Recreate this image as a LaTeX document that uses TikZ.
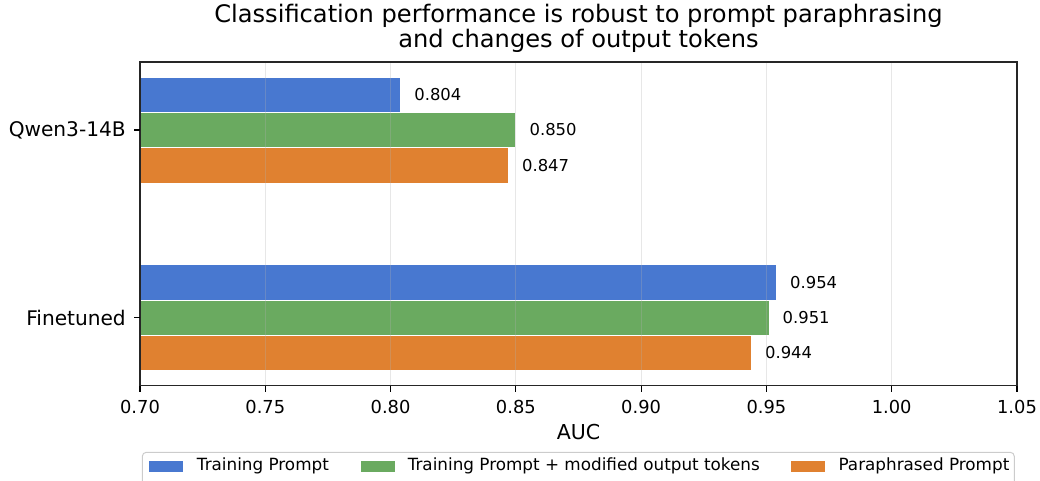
\documentclass[tikz,border=0pt]{standalone}
\usepackage{fontspec}
\setmainfont{DejaVu Sans}
\usetikzlibrary{positioning}

\definecolor{trainblue}{HTML}{4878D0}
\definecolor{tokgreen}{HTML}{6AAA60}
\definecolor{paraorange}{HTML}{E08130}

% map an AUC value to a pixel column
\newcommand{\aucx}[1]{140+(#1-0.7)*2505.7}

\tikzset{
  bar/.style={draw=white, line width=0.6pt},
  gridline/.style={draw=black!31, draw opacity=0.3, line width=0.75pt},
  spine/.style={draw=black!85, line width=1.1pt},
  ticklabel/.style={font=\fontsize{13.4}{16}\selectfont, inner sep=0pt},
  cattick/.style={anchor=east, font=\fontsize{15.1}{18}\selectfont, inner sep=0pt},
  vallabel/.style={anchor=west, font=\fontsize{12.3}{14}\selectfont, inner sep=0pt},
  legtext/.style={anchor=west, font=\fontsize{12.6}{14}\selectfont, inner sep=0pt},
  legpatch/.style={minimum width=24.8pt, minimum height=8pt, inner sep=0pt},
}

\begin{document}
\begin{tikzpicture}[x=0.75pt, y=-0.75pt]
  \useasboundingbox (0,0) rectangle (1040,480);

  \node[align=center, font=\fontsize{18.1}{16.9}\selectfont, inner sep=0pt] (title)
    at (578.5,28) {Classification performance is robust to prompt paraphrasing\\and changes of output tokens};

  % bars
  \foreach \ytop/\val/\col/\nm in {77/0.804/trainblue/qa, 112.3/0.850/tokgreen/qb, 147.6/0.847/paraorange/qc,
                                   264.7/0.954/trainblue/fa, 300/0.951/tokgreen/fb, 335.3/0.944/paraorange/fc} {
    \filldraw[bar, fill=\col] (140,\ytop) rectangle ({\aucx{\val}},\ytop+35.3);
    \node[vallabel] (val-\nm) at ({\aucx{\val}+13.5},\ytop+17.65) {\val};
  }

  % grid, ticks and tick labels
  \foreach \t/\nm in {0.70/a, 0.75/b, 0.80/c, 0.85/d, 0.90/e, 0.95/f, 1.00/g, 1.05/h} {
    \draw[gridline] ({\aucx{\t}},62) -- ({\aucx{\t}},385.5);
    \draw[line width=0.9pt] ({\aucx{\t}},385.5) -- ({\aucx{\t}},391.5);
    \node[ticklabel] (tick-\nm) at ({\aucx{\t}},406.5) {\t};
  }

  \draw[spine] (140,62) rectangle (1017,385.5);

  \draw[line width=0.9pt] (140,130) -- (133.5,130);
  \draw[line width=0.9pt] (140,317.5) -- (133.5,317.5);
  \node[cattick] (qwen) at (126,130) {Qwen3-14B};
  \node[cattick] (fine) at (126,317.5) {Finetuned};

  \node[font=\fontsize{15.4}{18}\selectfont, inner sep=0pt] (auc) at (578.5,432.5) {AUC};

  % legend
  \draw[draw=black!20, fill=white, line width=0.75pt, rounded corners=3pt] (142.3,452.3) rectangle (1014.3,500);
  \node[legpatch, fill=trainblue] (p1) at (166,466.3) {};
  \node[legtext] (l1) at (196.7,466.3) {Training Prompt};
  \node[legpatch, fill=tokgreen] (p2) at (378,466.3) {};
  \node[legtext] (l2) at (407.5,466.3) {Training Prompt + modified output tokens};
  \node[legpatch, fill=paraorange] (p3) at (808,466.3) {};
  \node[legtext] (l3) at (838.3,466.3) {Paraphrased Prompt};
\end{tikzpicture}
\end{document}
